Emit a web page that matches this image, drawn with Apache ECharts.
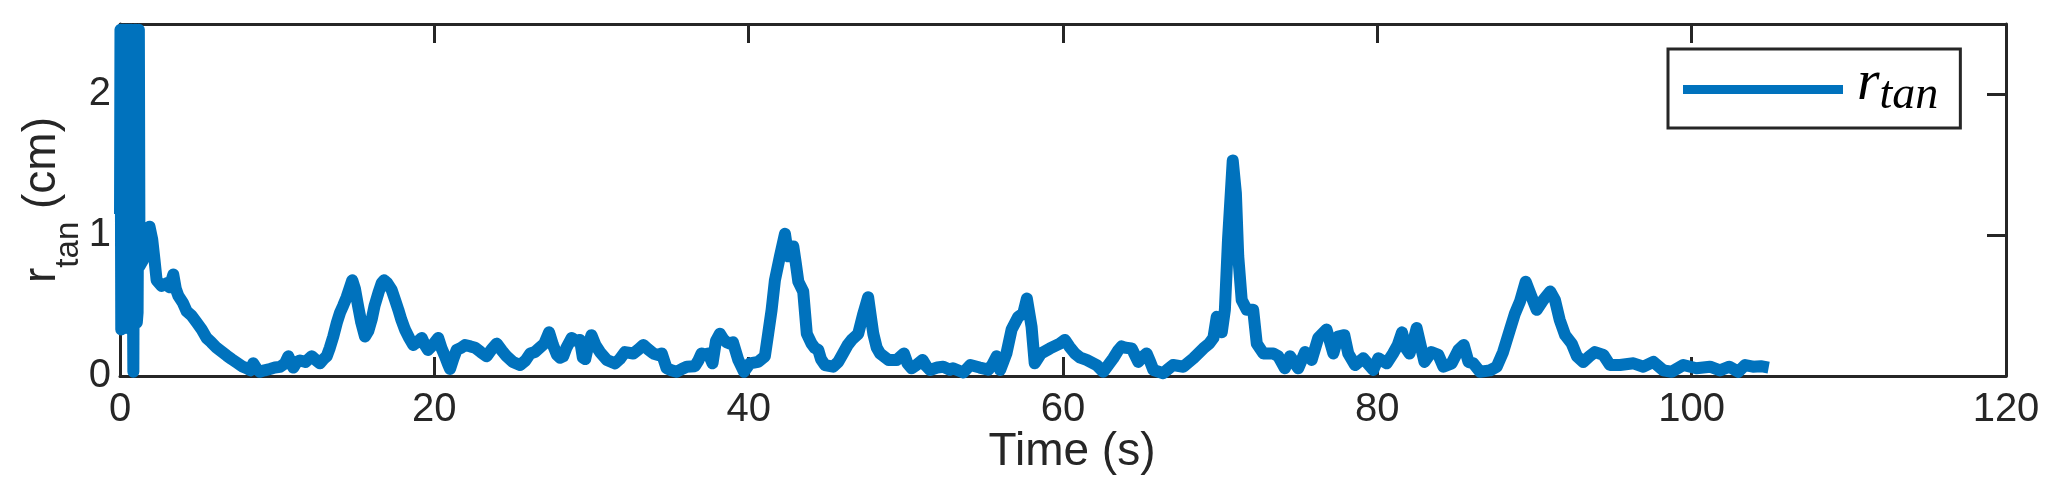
<!DOCTYPE html>
<html>
<head>
<meta charset="utf-8">
<script src="https://cdn.jsdelivr.net/npm/echarts@6/dist/echarts.min.js"></script>
<style>
html,body{margin:0;padding:0;background:#fff;}
#chart{width:2064px;height:493px;}
</style>
</head>
<body>
<div id="chart"></div>
<script>
// Time (s) and r_tan (cm) (values in the first ~1.2 s run off the top of the axes)
var timeValues = [
0,0.03,0.08,0.13,0.18,0.23,0.28,0.33,0.38,0.43,0.48,0.53,0.58,0.63,0.68,0.73,0.78,0.85,0.92,0.97,1.02,1.07,1.12,1.2,1.24,
1.45,1.7,1.88,2.05,2.2,2.33,2.65,3.0,3.15,3.39,3.55,3.71,4.0,4.24,4.55,4.88,5.2,5.51,5.8,6.15,6.5,6.79,7.1,7.43,7.75,8.06,8.3,8.48,8.7,8.9,9.2,9.54,9.85,10.18,10.5,10.71,10.9,11.03,11.25,11.45,11.8,12.2,12.5,12.72,12.95,13.15,13.35,13.57,13.8,14.0,14.2,14.42,14.6,14.78,14.95,15.16,15.35,15.59,15.8,16.01,16.2,16.44,16.65,16.8,17.0,17.29,17.5,17.71,17.9,18.13,18.4,18.66,18.9,19.2,19.4,19.6,19.9,20.25,20.45,20.68,20.85,21.0,21.2,21.42,21.7,21.95,22.3,22.6,22.95,23.33,23.65,23.97,24.3,24.6,25.0,25.45,25.8,26.1,26.4,26.7,27.0,27.3,27.55,27.8,28.0,28.2,28.4,28.74,29.0,29.27,29.45,29.6,29.8,30.0,30.25,30.54,30.97,31.5,31.8,32.13,32.66,33.0,33.3,33.6,33.93,34.2,34.47,34.78,35.1,35.42,35.75,36.06,36.58,36.8,37.0,37.25,37.43,37.7,37.92,38.17,38.4,38.6,38.8,39.0,39.34,39.7,40.08,40.6,41.03,41.24,41.46,41.67,41.99,42.31,42.52,42.7,42.84,43.0,43.16,43.47,43.7,44.0,44.2,44.43,44.6,44.85,45.38,45.7,46.0,46.3,46.55,46.97,47.3,47.6,47.8,47.93,48.15,48.36,48.9,49.42,49.88,50.1,50.37,50.7,51.07,51.3,51.54,52.0,52.38,52.8,53.0,53.66,54.1,54.7,55.25,55.5,55.78,56.0,56.2,56.4,56.73,57.15,57.47,57.7,58.0,58.2,58.6,59.17,59.8,60.12,60.4,60.76,61.1,61.5,62.14,62.56,62.9,63.2,63.5,63.73,64.0,64.37,64.79,65.1,65.32,65.55,65.75,66.38,66.7,67.0,67.66,68.3,68.93,69.3,69.57,69.78,70.0,70.1,70.3,70.5,70.8,71.0,71.15,71.37,71.69,72.1,72.33,72.75,73.38,73.7,74.12,74.44,74.97,75.4,75.82,76.24,76.77,77.2,77.5,77.9,78.15,78.58,79.1,79.74,80.06,80.6,81.0,81.3,81.57,81.8,82.05,82.3,82.5,82.75,83.0,83.43,83.88,84.2,84.73,85.16,85.5,85.8,86.1,86.53,87.17,87.6,88.0,88.44,88.76,89.08,89.44,89.82,90.14,90.56,91.0,91.3,91.6,91.95,92.37,92.7,93.1,93.5,93.85,94.38,94.8,95.44,96.3,96.93,97.56,98.2,98.73,99.47,100.3,101.17,101.8,102.4,102.97,103.4,103.9,104.4,104.9
];
var rtanValues = [
1.15,2.46,0.33,2.46,0.36,2.46,0.34,2.46,0.38,2.46,0.35,2.46,0.4,2.46,0.33,2.46,2.46,0.03,2.46,0.4,2.46,0.38,0.45,2.46,0.78,
0.82,0.90,1.06,0.97,0.82,0.68,0.64,0.66,0.63,0.72,0.62,0.57,0.52,0.46,0.43,0.38,0.33,0.27,0.24,0.20,0.17,0.145,0.12,0.095,0.07,0.055,0.04,0.09,0.05,0.03,0.04,0.05,0.06,0.065,0.09,0.14,0.09,0.06,0.1,0.11,0.1,0.14,0.11,0.09,0.12,0.14,0.2,0.28,0.38,0.45,0.5,0.56,0.62,0.68,0.62,0.49,0.38,0.28,0.32,0.40,0.5,0.59,0.66,0.68,0.66,0.61,0.54,0.47,0.40,0.33,0.27,0.22,0.24,0.27,0.22,0.185,0.22,0.27,0.2,0.14,0.09,0.05,0.12,0.185,0.2,0.22,0.21,0.2,0.17,0.14,0.19,0.23,0.18,0.14,0.1,0.078,0.11,0.16,0.17,0.2,0.23,0.31,0.22,0.15,0.13,0.14,0.2,0.27,0.25,0.256,0.13,0.12,0.22,0.29,0.22,0.17,0.114,0.09,0.12,0.17,0.16,0.19,0.22,0.19,0.16,0.15,0.16,0.055,0.04,0.03,0.05,0.066,0.07,0.11,0.16,0.15,0.16,0.09,0.25,0.3,0.26,0.24,0.23,0.24,0.114,0.03,0.09,0.1,0.14,0.3,0.47,0.68,0.85,1.01,0.85,0.92,0.92,0.8,0.67,0.6,0.3,0.23,0.2,0.185,0.12,0.078,0.066,0.1,0.16,0.22,0.256,0.3,0.445,0.56,0.4,0.3,0.2,0.16,0.114,0.114,0.16,0.09,0.055,0.08,0.114,0.07,0.043,0.06,0.066,0.045,0.055,0.025,0.078,0.06,0.045,0.08,0.14,0.043,0.1,0.16,0.33,0.42,0.445,0.55,0.35,0.09,0.16,0.196,0.23,0.256,0.21,0.16,0.13,0.114,0.078,0.03,0.08,0.126,0.18,0.21,0.2,0.196,0.10,0.14,0.16,0.1,0.043,0.02,0.05,0.078,0.066,0.126,0.196,0.23,0.27,0.42,0.33,0.31,0.47,0.97,1.53,1.3,0.85,0.54,0.47,0.47,0.23,0.16,0.16,0.14,0.055,0.14,0.055,0.17,0.114,0.27,0.33,0.16,0.28,0.29,0.16,0.078,0.126,0.043,0.126,0.09,0.16,0.22,0.31,0.2,0.16,0.25,0.34,0.22,0.10,0.17,0.15,0.066,0.09,0.185,0.22,0.10,0.09,0.03,0.04,0.066,0.17,0.33,0.445,0.53,0.67,0.56,0.47,0.54,0.60,0.54,0.40,0.29,0.23,0.14,0.10,0.14,0.17,0.15,0.078,0.078,0.09,0.066,0.10,0.04,0.03,0.078,0.055,0.066,0.04,0.066,0.03,0.078,0.066,0.07,0.06
];
var xTicks = { min: 0, max: 120, interval: 20 };
var yTicks = { min: 0, max: 2.5, interval: 1 };

var seriesData = timeValues.map(function (t, i) { return [t, rtanValues[i]]; });

var axisColor = '#262626';
var sans = '"Liberation Sans", Arial, Helvetica, sans-serif';
var serif = '"Liberation Serif", "Times New Roman", serif';

var chart = echarts.init(document.getElementById('chart'), null, { renderer: 'canvas' });

function baseAxis(extra) {
  var a = {
    type: 'value',
    splitLine: { show: false },
    axisLine: { show: true, onZero: false, lineStyle: { color: axisColor, width: 3 } },
    axisTick: { show: true, inside: true, length: 19, lineStyle: { color: axisColor, width: 3 } },
    axisLabel: { show: false }
  };
  for (var k in extra) a[k] = extra[k];
  return a;
}

chart.setOption({
  animation: false,
  backgroundColor: '#ffffff',
  grid: { left: 120, right: 58, top: 24, bottom: 117, containLabel: false, outerBoundsMode: 'none' },
  legend: {
    show: true,
    left: 1668,
    top: 49,
    orient: 'horizontal',
    backgroundColor: '#ffffff',
    borderColor: axisColor,
    borderWidth: 3,
    borderRadius: 0,
    padding: [6, 22, 4, 15],
    itemWidth: 160,
    itemHeight: 9,
    icon: 'rect',
    data: [{ name: 'rtan', icon: 'rect' }],
    formatter: function () { return '{r|r}{s|tan}'; },
    textStyle: {
      rich: {
        r: { fontFamily: serif, fontStyle: 'italic', fontSize: 58, lineHeight: 60, color: '#000', padding: [0, 0, 11, 9] },
        s: { fontFamily: serif, fontStyle: 'italic', fontSize: 46, lineHeight: 46, color: '#000', padding: [13, 0, 0, 0] }
      }
    }
  },
  xAxis: [
    baseAxis({
      position: 'bottom',
      min: xTicks.min, max: xTicks.max, interval: xTicks.interval,
      axisLabel: { show: true, fontFamily: sans, fontSize: 40, color: axisColor, margin: 14 },
      name: 'Time (s)',
      nameLocation: 'middle',
      nameGap: 53,
      nameMoveOverlap: false,
      nameTextStyle: { fontFamily: sans, fontSize: 46, color: axisColor, padding: [0, 0, 0, 18] }
    }),
    baseAxis({
      position: 'top',
      min: xTicks.min, max: xTicks.max, interval: xTicks.interval
    })
  ],
  yAxis: [
    baseAxis({
      position: 'left',
      min: yTicks.min, max: yTicks.max, interval: yTicks.interval,
      axisLabel: { show: true, fontFamily: sans, fontSize: 40, color: axisColor, margin: 9, showMaxLabel: false,
        formatter: function (v) { return (v % 1 === 0) ? String(v) : ''; } },
      name: '{r|r}{s|tan}{u| (cm)}',
      nameLocation: 'middle',
      nameGap: 53,
      nameMoveOverlap: false,
      nameTextStyle: {
        color: axisColor,
        rich: {
          r: { fontFamily: sans, fontSize: 46, lineHeight: 50, color: axisColor },
          s: { fontFamily: sans, fontSize: 33, lineHeight: 36, color: axisColor, padding: [54, 0, 0, 0] },
          u: { fontFamily: sans, fontSize: 46, lineHeight: 50, color: axisColor }
        }
      }
    }),
    baseAxis({
      position: 'right',
      min: yTicks.min, max: yTicks.max, interval: yTicks.interval
    })
  ],
  series: [{
    name: 'rtan',
    type: 'line',
    xAxisIndex: 0,
    yAxisIndex: 0,
    data: seriesData,
    showSymbol: false,
    symbol: 'none',
    clip: true,
    color: '#0072BD',
    lineStyle: { color: '#0072BD', width: 12, join: 'round', cap: 'butt' },
    z: 1
  }]
});
</script>
</body>
</html>
